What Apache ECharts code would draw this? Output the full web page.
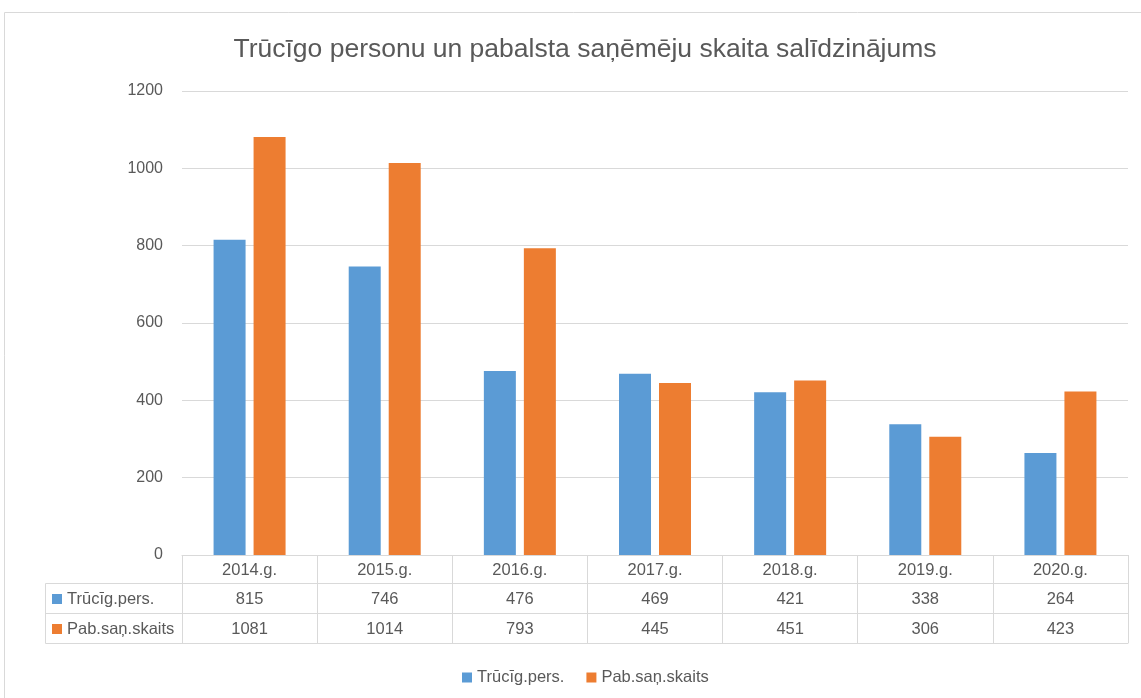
<!DOCTYPE html>
<html>
<head>
<meta charset="utf-8">
<script src="https://cdn.jsdelivr.net/npm/echarts@6/dist/echarts.min.js"></script>
<style>
  html, body { margin: 0; padding: 0; background: #fff; }
  #main { width: 1141px; height: 698px; }
</style>
</head>
<body>
<div id="main"></div>
<script>
// chart data
const years = ['2014.g.', '2015.g.', '2016.g.', '2017.g.', '2018.g.', '2019.g.', '2020.g.']
const trucigPers = [815, 746, 476, 469, 421, 338, 264]
const pabSanSkaits = [1081, 1014, 793, 445, 451, 306, 423]
const seriesNames = ['Trūcīg.pers.', 'Pab.saņ.skaits']
const yTicks = [0, 200, 400, 600, 800, 1000, 1200]

const font = 'Liberation Sans'
const txtColor = '#595959'
const lineColor = '#d9d9d9'
const colors = ['#5b9bd5', '#ed7d31']

const chart = echarts.init(document.getElementById('main'))

// extra x axes only draw the horizontal table lines
const lineAxis = (offset) => ({
  type: 'category',
  data: years,
  position: 'bottom',
  offset: offset,
  axisLine: { show: true, lineStyle: { color: lineColor } },
  axisTick: { show: false },
  axisLabel: { show: false }
})

const option = {
  animation: false,
  textStyle: { fontFamily: font },
  color: colors,
  title: {
    text: 'Trūcīgo personu un pabalsta saņēmēju skaita salīdzinājums',
    left: 580,
    top: 31,
    textAlign: 'center',
    textStyle: { fontFamily: font, fontSize: 26.5, fontWeight: 'normal', color: txtColor }
  },
  legend: {
    data: seriesNames,
    left: 457,
    top: 664,
    itemWidth: 10,
    itemHeight: 10,
    itemGap: 22,
    icon: 'rect',
    textStyle: { fontFamily: font, fontSize: 16.5, color: txtColor }
  },
  grid: { left: 182, right: 13, top: 91, bottom: 143 },
  xAxis: [
    {
      type: 'category',
      data: years,
      axisLine: { show: true, lineStyle: { color: lineColor } },
      axisTick: { show: true, length: 88, interval: 0, lineStyle: { color: lineColor } },
      axisLabel: {
        interval: 0,
        margin: 1,
        formatter: (value, index) =>
          '{y|' + value + '}\n{a|' + trucigPers[index] + '}\n{b|' + pabSanSkaits[index] + '}',
        rich: {
          y: { fontFamily: font, fontSize: 16.5, color: txtColor, lineHeight: 28 },
          a: { fontFamily: font, fontSize: 16.5, color: txtColor, lineHeight: 30 },
          b: { fontFamily: font, fontSize: 16.5, color: txtColor, lineHeight: 30 }
        }
      }
    },
    lineAxis(28),
    lineAxis(58),
    lineAxis(88)
  ],
  yAxis: {
    type: 'value',
    min: 0,
    max: 1200,
    interval: 200,
    axisLine: { show: false },
    axisTick: { show: false },
    splitLine: { lineStyle: { color: lineColor } },
    axisLabel: {
      margin: 19,
      fontFamily: font,
      fontSize: 16,
      color: txtColor,
      formatter: (v) => (yTicks.indexOf(v) >= 0 ? String(v) : '')
    }
  },
  series: [
    {
      name: seriesNames[0],
      type: 'bar',
      data: trucigPers,
      barWidth: 32,
      barGap: '25%'
    },
    {
      name: seriesNames[1],
      type: 'bar',
      data: pabSanSkaits,
      barWidth: 32,
      barGap: '25%'
    }
  ],
  graphic: [
    // outer chart border
    {
      type: 'rect',
      shape: { x: 4.5, y: 12.5, width: 1200, height: 800 },
      style: { fill: 'none', stroke: lineColor, lineWidth: 1 },
      silent: true,
      z: -10
    },
    // left box of data table with series keys
    {
      type: 'rect',
      shape: { x: 45.5, y: 583.5, width: 137, height: 60 },
      style: { fill: 'none', stroke: lineColor, lineWidth: 1 },
      silent: true
    },
    {
      type: 'line',
      shape: { x1: 45, y1: 613.5, x2: 182, y2: 613.5 },
      style: { stroke: lineColor, lineWidth: 1 },
      silent: true
    },
    {
      type: 'rect',
      shape: { x: 52, y: 594, width: 10, height: 10 },
      style: { fill: colors[0] },
      silent: true
    },
    {
      type: 'text',
      style: { x: 67, y: 599, text: seriesNames[0], fontFamily: font, fontSize: 16.5, fill: txtColor, verticalAlign: 'middle' },
      silent: true
    },
    {
      type: 'rect',
      shape: { x: 52, y: 624, width: 10, height: 10 },
      style: { fill: colors[1] },
      silent: true
    },
    {
      type: 'text',
      style: { x: 67, y: 629, text: seriesNames[1], fontFamily: font, fontSize: 16.5, fill: txtColor, verticalAlign: 'middle' },
      silent: true
    }
  ]
}

chart.setOption(option)
</script>
</body>
</html>
